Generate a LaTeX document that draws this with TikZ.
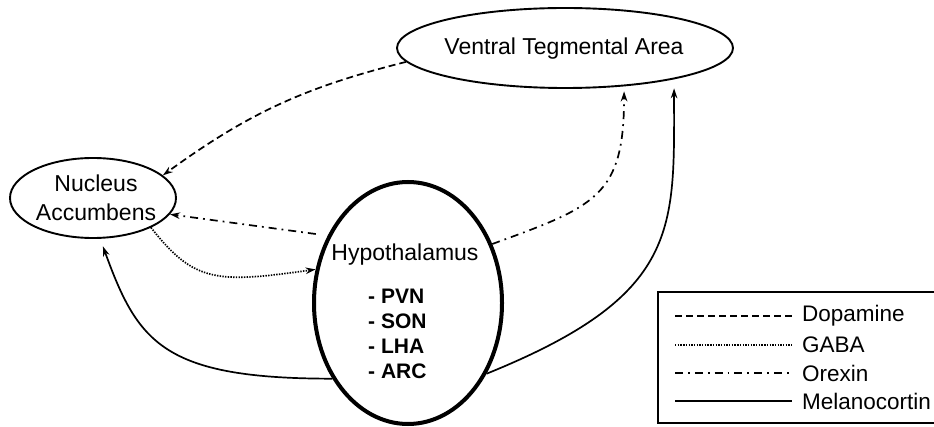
\documentclass[tikz,border=0pt]{standalone}
\usepackage{fontspec}
\setmainfont{Liberation Sans}
\usetikzlibrary{arrows.meta,shapes.geometric}

\begin{document}
\begin{tikzpicture}[x=1pt,y=1pt,
		region/.style={draw,ellipse,line width=1.9pt,inner sep=0pt},
		conn/.style={line width=1.7pt,-{Stealth[length=10pt,width=6.5pt]}},
		dopa/.style={dash pattern=on 7pt off 4pt},
		gaba/.style={dash pattern=on 1.4pt off 1.3pt},
		orex/.style={dash pattern=on 8pt off 5pt on 1.8pt off 5pt},
		lab/.style={font=\fontsize{23}{29}\selectfont,align=center,inner sep=0pt},
		leg/.style={font=\fontsize{22.5}{26}\selectfont,anchor=west,inner sep=0pt}]
	\useasboundingbox (0,0) rectangle (934,426);
	\clip (0,0) rectangle (934,426);
	% 三个脑区
	\node[region,minimum width=336pt,minimum height=80pt] (vta) at (565,378) {};
	\node[lab] (vtatext) at (564,377) {Ventral Tegmental Area};
	\node[region,minimum width=166pt,minimum height=80pt] (nac) at (93,228) {};
	\node[lab] (nactext) at (96,228) {Nucleus\\Accumbens};
	\node[region,line width=4pt,minimum width=188pt,minimum height=242pt] (hyp) at (408,123) {};
	\node[lab] (hyptext) at (405,171) {Hypothalamus};
	% 下丘脑核团
	\node[inner sep=0pt,anchor=west,align=left,font=\bfseries\fontsize{21}{25}\selectfont] (nuclei) at (368,92) {- PVN\\- SON\\- LHA\\- ARC};
	% 多巴胺
	\draw[conn,dopa] (vta.185) to[out=194,in=36] (nac.18);
	% GABA
	\draw[conn,gaba] (nac.-27) .. controls +(-52:70) and +(188:100) .. (hyp.160);
	% 食欲素
	\draw[conn,orex,shorten <=12pt] (hyp.140) -- (nac.-12);
	\draw[conn,orex,shorten >=5pt] (hyp.35) .. controls +(20:110) and +(0,-110) .. (vta.-33.7);
	% 黑皮质素
	\draw[conn,shorten >=8pt] (hyp.225) .. controls +(180:170) and +(-70:110) .. (nac.-80);
	\draw[conn,shorten >=9pt] (hyp.-42) .. controls +(22:210) and +(0,-150) .. (vta.-16);
	% 图例
	\draw[line width=2pt] (658,3) rectangle (960,134);
	\node[leg] (ldopa) at (802,110) {Dopamine};
	\node[leg] (lgaba) at (802,81) {GABA};
	\node[leg] (lorex) at (802,53) {Orexin};
	\node[leg] (lmel) at (802,25) {Melanocortin};
	\draw[line width=1.7pt,dopa] ([xshift=-127pt]ldopa.west) -- ([xshift=-10pt]ldopa.west);
	\draw[line width=1.7pt,gaba] ([xshift=-127pt]lgaba.west) -- ([xshift=-10pt]lgaba.west);
	\draw[line width=1.7pt,orex] ([xshift=-127pt]lorex.west) -- ([xshift=-10pt]lorex.west);
	\draw[line width=1.7pt] ([xshift=-127pt]lmel.west) -- ([xshift=-10pt]lmel.west);
\end{tikzpicture}
\end{document}
